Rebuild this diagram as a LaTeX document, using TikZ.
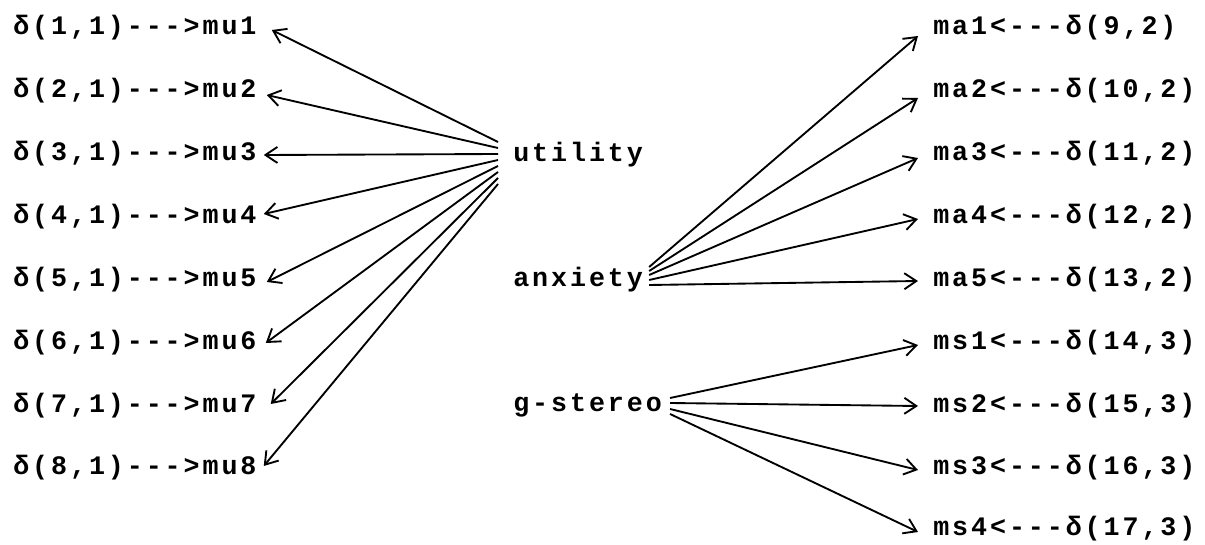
\documentclass[tikz,border=0pt]{standalone}
\usepackage{fontspec}
\newfontfamily\cour[LetterSpace=11]{Liberation Mono}
\usetikzlibrary{arrows.meta,calc}
\tikzset{
  lbl/.style={inner sep=0pt, font=\cour\bfseries\fontsize{20}{24}\selectfont},
  arr/.style={line width=1.4pt, -{Straight Barb[length=9pt,width=12pt,line width=1.4pt]}},
}
\begin{document}
\begin{tikzpicture}[x=0.75pt,y=-0.75pt]
\useasboundingbox (0,0) rectangle (1205,545);
% left labels
\foreach \i/\y in {1/28,2/91,3/154,4/217,5/280,6/343,7/406,8/468}
  \node[lbl,anchor=west] (l\i) at (13,\y) {δ(\i,1)--->mu\i};
% right labels
\node[lbl,anchor=west] (r1) at (933,28)  {ma1<---δ(9,2)};
\node[lbl,anchor=west] (r2) at (933,91)  {ma2<---δ(10,2)};
\node[lbl,anchor=west] (r3) at (933,154) {ma3<---δ(11,2)};
\node[lbl,anchor=west] (r4) at (933,217) {ma4<---δ(12,2)};
\node[lbl,anchor=west] (r5) at (933,280) {ma5<---δ(13,2)};
\node[lbl,anchor=west] (r6) at (933,343) {ms1<---δ(14,3)};
\node[lbl,anchor=west] (r7) at (933,406) {ms2<---δ(15,3)};
\node[lbl,anchor=west] (r8) at (933,468) {ms3<---δ(16,3)};
\node[lbl,anchor=west] (r9) at (933,529) {ms4<---δ(17,3)};
% hubs
\node[lbl,anchor=west] (util) at (513,155) {utility};
\node[lbl,anchor=west] (anx) at (513,280) {anxiety};
\node[lbl,anchor=west] (gst) at (513,405) {g-stereo};
% utility -> mu
\foreach \i/\sy/\ex/\ey in {1/-13/15/2,2/-7/10/4,3/-1/7/1,4/5/7/-3,5/11/10/2,6/17/9/0,7/23/14/-2,8/29/7/-2}
  \draw[arr] ($(util.west)+(-15,\sy)$) -- ($(l\i.east)+(\ex,\ey)$);
% anxiety -> ma
\foreach \i/\sy/\ey in {1/-13/8,2/-9/7,3/-5/4,4/0/2,5/5/1}
  \draw[arr] ($(anx.east)+(6,\sy)$) -- ($(r\i.west)+(-15,\ey)$);
% g-stereo -> ms
\foreach \i/\sy/\ey in {6/-7/2,7/-2/0,8/4/2,9/9/3}
  \draw[arr] ($(gst.east)+(8,\sy)$) -- ($(r\i.west)+(-15,\ey)$);
\end{tikzpicture}
\end{document}
